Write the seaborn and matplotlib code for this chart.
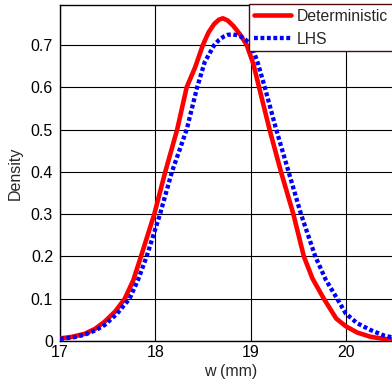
import matplotlib
matplotlib.use("Agg")
import matplotlib.pyplot as plt
import seaborn as sns
import pandas as pd
from matplotlib.ticker import FuncFormatter

# ---- data ----
det_x = [17.00, 17.13, 17.26, 17.37, 17.47, 17.58, 17.68, 17.77, 17.85, 17.92, 17.99,
         18.105, 18.23, 18.33, 18.42, 18.50, 18.56, 18.62, 18.67, 18.71, 18.76,
         18.82, 18.89, 18.96, 19.03, 19.09, 19.20, 19.32, 19.45, 19.56, 19.65,
         19.77, 19.90, 20.00, 20.12, 20.26, 20.40, 20.58]
det_y = [0.006, 0.010, 0.017, 0.029, 0.046, 0.070, 0.100, 0.144, 0.200, 0.250, 0.300,
         0.400, 0.500, 0.600, 0.648, 0.700, 0.730, 0.750, 0.760, 0.763, 0.758,
         0.745, 0.725, 0.700, 0.655, 0.600, 0.500, 0.400, 0.300, 0.200, 0.148,
         0.100, 0.053, 0.035, 0.020, 0.010, 0.005, 0.002]

lhs_x = [17.00, 17.13, 17.26, 17.37, 17.47, 17.60, 17.73, 17.82, 17.91, 17.98, 18.05,
         18.175, 18.33, 18.44, 18.52, 18.62, 18.67, 18.72, 18.76, 18.81, 18.86,
         18.90, 18.95, 19.01, 19.08, 19.15, 19.27, 19.40, 19.53, 19.68, 19.79,
         19.91, 20.00, 20.12, 20.26, 20.40, 20.58]
lhs_y = [0.005, 0.008, 0.015, 0.025, 0.038, 0.065, 0.100, 0.145, 0.200, 0.250, 0.300,
         0.400, 0.500, 0.600, 0.660, 0.700, 0.712, 0.720, 0.724, 0.725, 0.723,
         0.720, 0.712, 0.700, 0.655, 0.600, 0.500, 0.400, 0.300, 0.200, 0.145,
         0.100, 0.065, 0.042, 0.026, 0.013, 0.004]

x_ticks = [17, 18, 19, 20]
y_ticks = [0, 0.1, 0.2, 0.3, 0.4, 0.5, 0.6, 0.7]
series_names = ["Deterministic", "LHS"]

sns.set_style("white")
plt.rcParams["font.family"] = ["Liberation Sans", "DejaVu Sans"]

fig = plt.figure(figsize=(3.92, 3.87), dpi=100)
ax = fig.add_axes([60 / 392, 46 / 387, 341 / 392, 336 / 387])

df_det = pd.DataFrame({"x": det_x, "y": det_y})
df_lhs = pd.DataFrame({"x": lhs_x, "y": lhs_y})

sns.lineplot(data=df_det, x="x", y="y", ax=ax, color="#ff0000", lw=3.3,
             estimator=None, sort=False, label=series_names[0], zorder=3)
sns.lineplot(data=df_lhs, x="x", y="y", ax=ax, color="#0000ff", lw=3.1,
             estimator=None, sort=False, label=series_names[1], zorder=4)
ax.lines[0].set_solid_joinstyle("round")
ax.lines[1].set_dashes((0.9, 0.6))
ax.lines[1].set_dash_capstyle("butt")

ax.set_xlim(17, 20.58)
ax.set_ylim(0, 0.7945)
ax.set_xticks(x_ticks)
ax.set_yticks(y_ticks)
ax.yaxis.set_major_formatter(FuncFormatter(lambda v, p: "0" if abs(v) < 1e-9 else f"{v:.1f}"))
ax.tick_params(axis="both", length=0, labelsize=11.5, colors="black")
ax.tick_params(axis="y", pad=5)
ax.tick_params(axis="x", pad=3)

ax.grid(True, color="black", lw=0.8)
for s in ax.spines.values():
    s.set_color("black")
    s.set_linewidth(1.0)

ax.set_xlabel("w (mm)", fontsize=11.5, labelpad=3)
ax.set_ylabel("Density", fontsize=11.5, labelpad=6)

leg = ax.legend(loc="upper left", bbox_to_anchor=(249 / 392, 1 - 4 / 387),
                bbox_transform=fig.transFigure, borderaxespad=0, fontsize=11.3,
                frameon=True, fancybox=False, framealpha=1, edgecolor="#4a0d0d",
                handlelength=2.4, handletextpad=0.35, labelspacing=0.5,
                borderpad=0.3)
leg.get_frame().set_linewidth(1.0)
leg.get_lines()[1].set_dashes((0.9, 0.6))

fig.savefig("out.png", dpi=100)
